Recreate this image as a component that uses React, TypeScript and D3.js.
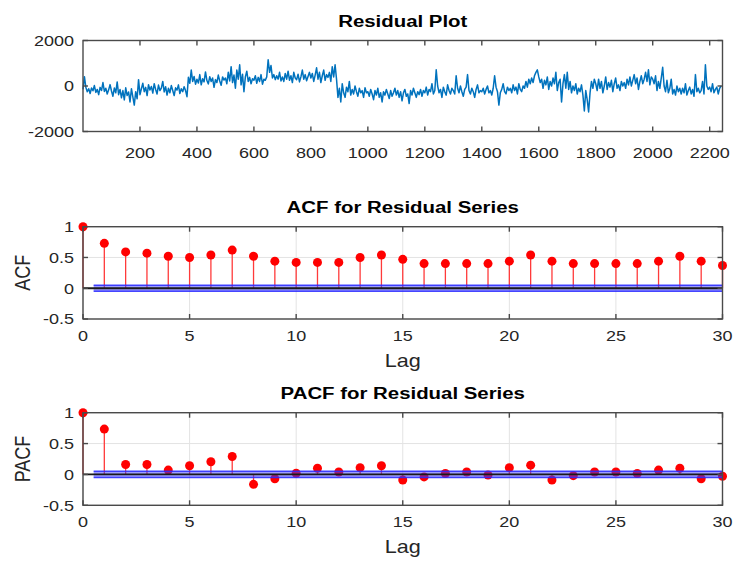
import React from 'react';
import * as d3 from 'd3';

const residualStep = 5;
const residualValues: number[] = [
  -150, 410, -60, -250, -120, -330, -90, -210, 20, -280, -150, -380, -60, -200, 150, -240, -100, -350, -170, 60,
  -220, -450, -90, -300, 180, -380, -150, -520, -200, -610, -80, -420, -260, -700, -120, -480, -840, -250, -560, 280,
  -380, -120, 120, -250, -60, -420, 60, -180, -20, -310, 100, -150, -350, 40, -200, -90, 200, -260, -30, -400,
  -100, -300, 20, -200, -420, -80, -180, 50, -330, -120, -250, -30, -200, -470, 380, 120, 700, 200, 420, 80,
  300, 130, 500, 50, 320, 180, 620, 240, 90, 410, 200, 350, -60, 280, 150, 480, 220, 30, 400, 260,
  350, 100, 600, 220, 850, 150, 480, -100, 700, 300, 930, 50, 520, -250, 400, 650, 200, 380, 100, 320,
  250, 450, 120, 380, 200, 500, 80, 300, 250, 400, 1150, 600, 900, 350, 500, 280, 450, 300, 600, 220,
  400, 200, 550, 300, 650, 250, 450, 150, 600, 350, 280, 520, 180, 400, 700, 300, 500, 230, 420, 600,
  350, 550, 200, 480, 800, 300, 600, 150, 450, 700, 250, 500, 380, 600, 200, 850, 400, 930, 300, -500,
  -100, -700, 100, -300, -500, -50, -250, 200, -400, -150, -350, 0, -250, -450, -100, -300, -200, -500, -80, -300,
  -250, -450, -150, -350, -600, -200, -400, -100, -500, -300, -700, -250, -400, -150, -350, -550, -200, -450, -300, -100,
  -400, -200, -500, -250, -650, -300, -150, -450, -350, -770, -200, -400, -100, -300, -500, -250, -380, -150, -450, -200,
  -300, -50, -400, -150, -250, 100, -350, -200, 710, 0, -300, -150, -500, -50, -250, -400, 50, -200, -350, -100,
  -200, -350, 450, -100, -300, 0, -250, -450, -150, -50, 500, -200, -350, -100, -250, -500, -150, 50, -300, -200,
  -250, -100, -350, -150, 0, -300, -200, -400, -100, 450, -50, -250, -840, -300, -150, 100, -250, -350, -50, -200,
  -100, -300, 50, -200, -50, -350, 100, -150, -250, 0, -100, 200, -50, 300, 100, 350, 150, 450, 600, 710,
  400, 150, 300, -100, 250, 50, 400, -150, 200, 0, 350, 100, 600, -200, 150, 300, -700, 100, 500, -100,
  600, -150, 200, -300, 0, -200, 100, -350, -100, -250, 50, -400, -1100, -200, -600, -1140, -300, 200, -100, 300,
  100, -200, 300, -100, 200, -300, 0, 400, -150, 150, -50, 250, -250, 100, 350, -100, 50, -200, 200, 0,
  150, -100, 300, 50, 400, 0, 250, 500, 100, 350, -150, 200, 450, 100, 300, 600, 200, 710, 50, 400,
  300, 100, 450, -200, 200, -100, 350, 820, 0, -250, 250, -300, -100, 300, -350, -150, -400, 0, -250, -100,
  -350, -100, -300, 100, -400, -200, -50, -350, -150, -450, 500, -250, -100, -300, -200, 200, -350, 930, 0, -150,
  -50, -250, 100, -300, -150, -50, -350, -100, 0,
];
const residualXDomain = [0, 2245];
const residualXTicks = [200, 400, 600, 800, 1000, 1200, 1400, 1600, 1800, 2000, 2200];
const residualYTicks = [-2000, 0, 2000];

const lags = d3.range(0, 31);
const acfValues = [
  1, 0.73, 0.59, 0.57, 0.52, 0.5, 0.54, 0.62, 0.52, 0.44, 0.42,
  0.42, 0.42, 0.5, 0.54, 0.47, 0.4, 0.4, 0.4, 0.4, 0.44,
  0.54, 0.44, 0.4, 0.4, 0.4, 0.4, 0.44, 0.52, 0.44, 0.37,
];
const pacfValues = [
  1, 0.735, 0.16, 0.16, 0.07, 0.14, 0.205, 0.29, -0.16, -0.07, 0.02,
  0.1, 0.04, 0.11, 0.14, -0.09, -0.04, 0.015, 0.04, -0.01, 0.11,
  0.15, -0.09, -0.02, 0.04, 0.04, 0.015, 0.07, 0.1, -0.07, -0.03,
];
const lagTicks = [0, 5, 10, 15, 20, 25, 30];
const corrYTicks = [-0.5, 0, 0.5, 1];
const corrYTickLabels = ['-0.5', '0', '0.5', '1'];
const confBound = 0.05;

const FONT = "'Liberation Sans', Arial, Helvetica, sans-serif";
const AXIS = '#4a4a4a';
const TEXT = '#262626';
const LEFT = 83;
const RIGHT = 722.5;
const TICK = 5;
const SX = 1.2; // horizontal stretch of the reference's text

function T({ x, y, size, anchor = 'middle', weight = 'normal', fill = TEXT, dy, rotate = 0, sx = SX, children }: any) {
  const tr = `translate(${x},${y}) scale(${sx},1)` + (rotate ? ` rotate(${rotate})` : '');
  return (
    <text
      transform={tr}
      dy={dy}
      textAnchor={anchor}
      fontFamily={FONT}
      fontSize={size}
      fontWeight={weight}
      fill={fill}
    >
      {children}
    </text>
  );
}

function Grid({ x, y, xTicks, yTicks }: any) {
  const [x0, x1] = x.range();
  const [y0, y1] = y.range();
  return (
    <g stroke="#e3e3e3" strokeWidth={1}>
      {xTicks.map((t: number) => (
        <line key={'gx' + t} x1={x(t)} x2={x(t)} y1={y0} y2={y1} />
      ))}
      {yTicks.map((t: number) => (
        <line key={'gy' + t} x1={x0} x2={x1} y1={y(t)} y2={y(t)} />
      ))}
    </g>
  );
}

function Box({ x, y, xTicks, yTicks }: any) {
  const [x0, x1] = x.range();
  const [y0, y1] = y.range();
  return (
    <g stroke={AXIS} strokeWidth={1.4} fill="none">
      <rect x={x0} y={y1} width={x1 - x0} height={y0 - y1} />
      {xTicks.map((t: number) => (
        <g key={'tx' + t}>
          <line x1={x(t)} x2={x(t)} y1={y0} y2={y0 - TICK} />
          <line x1={x(t)} x2={x(t)} y1={y1} y2={y1 + TICK} />
        </g>
      ))}
      {yTicks.map((t: number) => (
        <g key={'ty' + t}>
          <line x1={x0} x2={x0 + TICK} y1={y(t)} y2={y(t)} />
          <line x1={x1} x2={x1 - TICK} y1={y(t)} y2={y(t)} />
        </g>
      ))}
    </g>
  );
}

function TickLabels({ x, y, xTicks, yTicks, yLabels, xLabelY }: any) {
  const [x0] = x.range();
  return (
    <g>
      {xTicks.map((t: number) => (
        <T key={'lx' + t} x={x(t)} y={xLabelY} size={15}>
          {String(t)}
        </T>
      ))}
      {yTicks.map((t: number, i: number) => (
        <T key={'ly' + t} x={x0 - 9} y={y(t)} dy="0.36em" anchor="end" size={15}>
          {yLabels ? yLabels[i] : String(t)}
        </T>
      ))}
    </g>
  );
}

function CorrPanel({ values, top, bottom, title, titleY, ylabel, tickY, lagY }: any) {
  const x = d3.scaleLinear().domain([0, 30]).range([LEFT, RIGHT]);
  const y = d3.scaleLinear().domain([-0.5, 1]).range([bottom, top]);
  const midY = (top + bottom) / 2;
  return (
    <g>
      <Grid x={x} y={y} xTicks={lagTicks} yTicks={corrYTicks} />
      {lags.map((l: number, i: number) => (
        <line key={'s' + l} x1={x(l)} x2={x(l)} y1={y(0)} y2={y(values[i])} stroke="#ff3a3a" strokeWidth={1.3} />
      ))}
      {lags.map((l: number, i: number) => (
        <circle key={'m' + l} cx={x(l)} cy={y(values[i])} r={4.5} fill="#ff0000" />
      ))}
      <rect
        x={x(0.5)}
        y={y(confBound)}
        width={x(30) - x(0.5)}
        height={y(-confBound) - y(confBound)}
        fill="#3a3aff"
        opacity={0.5}
      />
      <line x1={x(0.5)} x2={x(30)} y1={y(confBound)} y2={y(confBound)} stroke="#2a2aff" strokeWidth={1.5} opacity={0.85} />
      <line x1={x(0.5)} x2={x(30)} y1={y(-confBound)} y2={y(-confBound)} stroke="#2a2aff" strokeWidth={1.5} opacity={0.85} />
      <line x1={x(0)} x2={x(30)} y1={y(0)} y2={y(0)} stroke="#1a1a1a" strokeWidth={1.8} />
      <Box x={x} y={y} xTicks={lagTicks} yTicks={corrYTicks} />
      <TickLabels x={x} y={y} xTicks={lagTicks} yTicks={corrYTicks} yLabels={corrYTickLabels} xLabelY={tickY} />
      <T x={(LEFT + RIGHT) / 2} y={titleY} size={17} weight="bold" fill="#000">
        {title}
      </T>
      <T x={(LEFT + RIGHT) / 2} y={lagY} size={18}>
        Lag
      </T>
      <T x={30} y={midY} size={18} rotate={-90}>
        {ylabel}
      </T>
    </g>
  );
}

function ResidualPanel() {
  const top = 40.5;
  const bottom = 131.5;
  const x = d3.scaleLinear().domain(residualXDomain).range([LEFT, RIGHT]);
  const y = d3.scaleLinear().domain([-2000, 2000]).range([bottom, top]);
  const line = d3
    .line<number>()
    .x((_d, i) => x(i * residualStep))
    .y((d) => y(d));
  return (
    <g>
      <path d={line(residualValues) || ''} fill="none" stroke="#0072BD" strokeWidth={1.5} strokeLinejoin="round" />
      <Box x={x} y={y} xTicks={residualXTicks} yTicks={residualYTicks} />
      <TickLabels x={x} y={y} xTicks={residualXTicks} yTicks={residualYTicks} xLabelY={158} />
      <T x={(LEFT + RIGHT) / 2} y={27} size={17} weight="bold" fill="#000">
        Residual Plot
      </T>
    </g>
  );
}

export default function App() {
  return (
    <svg
      width={736}
      height={565}
      viewBox="0 0 736 565"
      style={{ position: 'absolute', left: 0, top: 0, background: '#fff' }}
    >
      <rect width={736} height={565} fill="#fff" />
      <ResidualPanel />
      <CorrPanel
        values={acfValues}
        top={226.7}
        bottom={319}
        title="ACF for Residual Series"
        titleY={213}
        ylabel="ACF"
        tickY={341}
        lagY={367}
      />
      <CorrPanel
        values={pacfValues}
        top={412.7}
        bottom={505.3}
        title="PACF for Residual Series"
        titleY={399}
        ylabel="PACF"
        tickY={527}
        lagY={553}
      />
    </svg>
  );
}
